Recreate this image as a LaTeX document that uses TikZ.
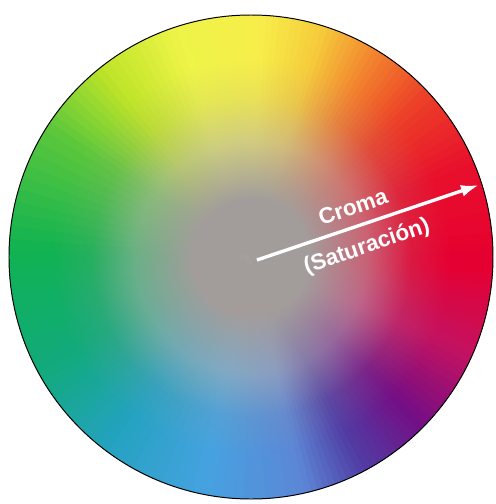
\documentclass[tikz,border=0pt]{standalone}
\usepackage{fontspec}
\setmainfont{Liberation Sans}
\usetikzlibrary{arrows.meta}

% hue stops round the wheel
\definecolor{h000}{RGB}{230,0,48}
\definecolor{h025}{RGB}{232,16,44}
\definecolor{h045}{RGB}{236,64,40}
\definecolor{h060}{RGB}{242,128,46}
\definecolor{h075}{RGB}{246,204,60}
\definecolor{h090}{RGB}{247,238,74}
\definecolor{h110}{RGB}{238,244,72}
\definecolor{h130}{RGB}{190,228,40}
\definecolor{h150}{RGB}{88,198,60}
\definecolor{h180}{RGB}{16,178,82}
\definecolor{h210}{RGB}{18,170,124}
\definecolor{h235}{RGB}{36,162,194}
\definecolor{h260}{RGB}{70,162,224}
\definecolor{h285}{RGB}{92,134,214}
\definecolor{h300}{RGB}{80,60,164}
\definecolor{h318}{RGB}{118,14,132}
\definecolor{h338}{RGB}{196,18,96}
\definecolor{centergray}{RGB}{162,157,155}
\colorlet{wedgecol}{h000}
\colorlet{wedgemid}{h000}
\colorlet{wedgenear}{h000}

% one spoke: grey at the centre, full hue at the rim
\pgfdeclarehorizontalshading[wedgecol,wedgemid,wedgenear]{spoke}{100bp}{color(0bp)=(centergray); color(37bp)=(centergray);
    color(49bp)=(wedgemid); color(58bp)=(wedgenear); color(66bp)=(wedgecol); color(100bp)=(wedgecol)}

\tikzset{
    >=Stealth,
    axislabel/.style={text=white, font=\bfseries\fontsize{16}{18}\selectfont, rotate=18.7, inner sep=0pt}, % rotated texts
    chroma/.style={-{Latex[length=0.45cm, width=0.3cm]}, draw=white, line width=2.4pt}, % white arrow
    rim/.style={draw=black, line width=0.7pt}
}

\begin{document}
\begin{tikzpicture}
    \useasboundingbox (-6.275,-6.175) rectangle (6.125,6.425);
    \def\R{6.05}

    % hue spokes
    \begin{scope}
    \clip (0,0) circle (\R);
    \foreach \a/\b/\ca/\cb in {0/25/h000/h025, 25/45/h025/h045, 45/60/h045/h060, 60/75/h060/h075,
        75/90/h075/h090, 90/110/h090/h110, 110/130/h110/h130, 130/150/h130/h150, 150/180/h150/h180,
        180/210/h180/h210, 210/235/h210/h235, 235/260/h235/h260, 260/285/h260/h285, 285/300/h285/h300,
        300/318/h300/h318, 318/338/h318/h338, 338/360/h338/h000}{
        \foreach \i in {0,...,9}{
            \pgfmathsetmacro\t{\a+(\b-\a)*(\i+0.5)/10}
            \pgfmathtruncatemacro\p{100-(\i+0.5)*10}
            \colorlet{wedgecol}{\ca!\p!\cb}
            \colorlet{wedgemid}{wedgecol!50!centergray!90!white}
            \colorlet{wedgenear}{wedgecol!85!centergray}
            \begin{scope}[transform canvas={rotate=\t}]
                \shade[shading=spoke] (0,0) -- (\R,-0.3) -- (\R,0.3) -- cycle;
            \end{scope}
        }
    }
    \end{scope}

    \draw[rim] (0,0) circle (\R);

    \coordinate (c0) at (0.15,-0.075);
    \coordinate (c1) at (5.7,1.8);
    \draw[chroma] (c0) -- (c1);

    \node[axislabel] (croma) at (2.55,1.25) {Croma};
    \node[axislabel] (satur) at (2.9,0.25) {(Saturación)};

\end{tikzpicture}
\end{document}
